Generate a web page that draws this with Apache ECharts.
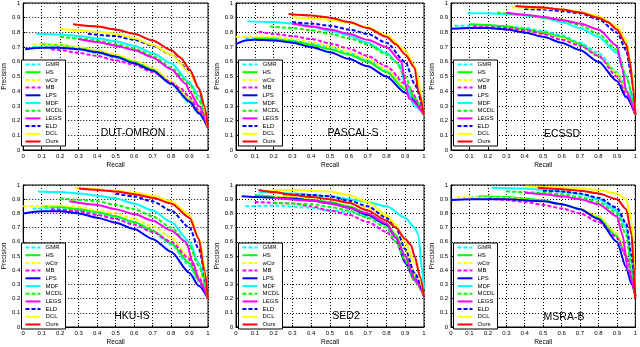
<!DOCTYPE html>
<html>
<head>
<meta charset="utf-8">
<script src="https://cdn.jsdelivr.net/npm/echarts@6/dist/echarts.min.js"></script>
<style>
  html, body { margin: 0; padding: 0; background: #fff; }
  #chart { width: 640px; height: 347px; }
</style>
</head>
<body>
<div id="chart"></div>
<script>
// methods, in legend order
const methods = ["GMR", "HS", "wCtr", "MB", "LPS", "MDF", "MCDL", "LEGS", "ELD", "DCL", "Ours"];
const datasetNames = ["DUT-OMRON", "PASCAL-S", "ECSSD", "HKU-IS", "SED2", "MSRA-B"];
const tickValues = [0, 0.1, 0.2, 0.3, 0.4, 0.5, 0.6, 0.7, 0.8, 0.9, 1];

// [recall, precision] pairs, one curve per method (same order as methods)
const dutOmron = [
  [[0.05, 0.70], [0.2, 0.70], [0.3, 0.685], [0.4, 0.66], [0.5, 0.63], [0.6, 0.59], [0.7, 0.54], [0.8, 0.45], [0.9, 0.32], [0.95, 0.25], [1, 0.15]],
  [[0.1, 0.72], [0.2, 0.715], [0.3, 0.695], [0.4, 0.67], [0.5, 0.64], [0.6, 0.60], [0.7, 0.55], [0.8, 0.46], [0.9, 0.34], [0.95, 0.26], [1, 0.15]],
  [[0.05, 0.72], [0.2, 0.715], [0.3, 0.70], [0.4, 0.68], [0.5, 0.65], [0.6, 0.61], [0.7, 0.56], [0.8, 0.47], [0.9, 0.35], [0.95, 0.27], [1, 0.15]],
  [[0.15, 0.685], [0.2, 0.68], [0.3, 0.66], [0.4, 0.64], [0.5, 0.61], [0.6, 0.58], [0.7, 0.53], [0.8, 0.46], [0.85, 0.42], [0.9, 0.36], [0.95, 0.27], [1, 0.15]],
  [[0.01, 0.685], [0.1, 0.695], [0.2, 0.695], [0.3, 0.685], [0.4, 0.665], [0.5, 0.635], [0.6, 0.59], [0.7, 0.54], [0.8, 0.45], [0.9, 0.33], [0.95, 0.25], [1, 0.15]],
  [[0.07, 0.79], [0.2, 0.785], [0.3, 0.775], [0.4, 0.76], [0.5, 0.74], [0.6, 0.71], [0.7, 0.66], [0.8, 0.59], [0.9, 0.46], [0.95, 0.37], [1, 0.15]],
  [[0.2, 0.77], [0.3, 0.76], [0.4, 0.745], [0.5, 0.72], [0.6, 0.69], [0.7, 0.64], [0.8, 0.56], [0.9, 0.45], [0.95, 0.34], [1, 0.15]],
  [[0.3, 0.755], [0.4, 0.735], [0.5, 0.71], [0.6, 0.68], [0.7, 0.63], [0.8, 0.55], [0.88, 0.45], [0.9, 0.40], [0.95, 0.30], [1, 0.15]],
  [[0.35, 0.79], [0.5, 0.775], [0.6, 0.75], [0.7, 0.71], [0.8, 0.65], [0.9, 0.54], [0.95, 0.42], [1, 0.15]],
  [[0.2, 0.825], [0.3, 0.815], [0.4, 0.805], [0.5, 0.79], [0.6, 0.76], [0.7, 0.715], [0.8, 0.65], [0.9, 0.53], [0.95, 0.42], [1, 0.15]],
  [[0.27, 0.855], [0.4, 0.84], [0.5, 0.82], [0.6, 0.79], [0.7, 0.745], [0.8, 0.68], [0.85, 0.63], [0.9, 0.55], [0.95, 0.42], [0.98, 0.30], [1, 0.15]]
];

const pascalS = [
  [[0.05, 0.76], [0.2, 0.76], [0.3, 0.745], [0.4, 0.725], [0.5, 0.70], [0.6, 0.66], [0.7, 0.61], [0.8, 0.54], [0.9, 0.42], [1, 0.24]],
  [[0.1, 0.76], [0.2, 0.755], [0.3, 0.74], [0.4, 0.715], [0.5, 0.685], [0.6, 0.65], [0.7, 0.60], [0.8, 0.53], [0.9, 0.41], [1, 0.24]],
  [[0.0, 0.77], [0.2, 0.77], [0.3, 0.755], [0.4, 0.735], [0.5, 0.705], [0.6, 0.67], [0.7, 0.62], [0.8, 0.55], [0.9, 0.43], [1, 0.24]],
  [[0.12, 0.805], [0.2, 0.79], [0.3, 0.775], [0.4, 0.755], [0.5, 0.725], [0.6, 0.69], [0.7, 0.64], [0.8, 0.57], [0.9, 0.45], [1, 0.24]],
  [[0.0, 0.72], [0.05, 0.745], [0.1, 0.75], [0.2, 0.745], [0.3, 0.73], [0.4, 0.70], [0.5, 0.665], [0.6, 0.62], [0.7, 0.57], [0.8, 0.50], [0.9, 0.39], [1, 0.24]],
  [[0.06, 0.875], [0.2, 0.87], [0.3, 0.86], [0.4, 0.84], [0.5, 0.81], [0.6, 0.78], [0.7, 0.73], [0.8, 0.66], [0.87, 0.58], [0.9, 0.45], [0.95, 0.30], [1, 0.24]],
  [[0.18, 0.84], [0.3, 0.83], [0.4, 0.815], [0.5, 0.79], [0.6, 0.76], [0.7, 0.72], [0.8, 0.65], [0.85, 0.60], [0.9, 0.50], [0.95, 0.35], [1, 0.24]],
  [[0.3, 0.86], [0.4, 0.84], [0.5, 0.82], [0.6, 0.79], [0.7, 0.75], [0.8, 0.70], [0.88, 0.60], [0.9, 0.45], [0.92, 0.35], [1, 0.24]],
  [[0.3, 0.87], [0.4, 0.86], [0.5, 0.845], [0.6, 0.82], [0.7, 0.79], [0.8, 0.73], [0.9, 0.60], [0.95, 0.45], [1, 0.24]],
  [[0.3, 0.905], [0.4, 0.895], [0.5, 0.885], [0.6, 0.865], [0.7, 0.835], [0.8, 0.78], [0.9, 0.68], [0.95, 0.57], [1, 0.24]],
  [[0.28, 0.925], [0.4, 0.915], [0.5, 0.90], [0.6, 0.87], [0.7, 0.83], [0.8, 0.77], [0.85, 0.72], [0.9, 0.65], [0.95, 0.56], [0.97, 0.40], [1, 0.24]]
];

const ecssd = [
  [[0.02, 0.845], [0.2, 0.845], [0.3, 0.84], [0.4, 0.83], [0.5, 0.81], [0.6, 0.78], [0.7, 0.73], [0.8, 0.66], [0.9, 0.53], [0.95, 0.42], [1, 0.24]],
  [[0.1, 0.855], [0.2, 0.85], [0.3, 0.84], [0.4, 0.82], [0.5, 0.80], [0.6, 0.77], [0.7, 0.72], [0.8, 0.64], [0.9, 0.52], [0.95, 0.40], [1, 0.24]],
  [[0.02, 0.825], [0.2, 0.83], [0.3, 0.825], [0.4, 0.81], [0.5, 0.79], [0.6, 0.76], [0.7, 0.71], [0.8, 0.64], [0.9, 0.52], [0.95, 0.40], [1, 0.24]],
  [[0.12, 0.84], [0.2, 0.835], [0.3, 0.83], [0.4, 0.815], [0.5, 0.79], [0.6, 0.75], [0.7, 0.71], [0.8, 0.64], [0.9, 0.50], [0.95, 0.38], [1, 0.24]],
  [[0.0, 0.825], [0.1, 0.83], [0.2, 0.83], [0.3, 0.82], [0.4, 0.80], [0.5, 0.77], [0.6, 0.73], [0.7, 0.68], [0.8, 0.60], [0.9, 0.47], [0.95, 0.36], [1, 0.24]],
  [[0.09, 0.93], [0.2, 0.93], [0.3, 0.925], [0.4, 0.915], [0.5, 0.90], [0.6, 0.87], [0.7, 0.83], [0.8, 0.77], [0.9, 0.66], [0.95, 0.50], [1, 0.24]],
  [[0.25, 0.935], [0.4, 0.92], [0.5, 0.90], [0.6, 0.88], [0.7, 0.85], [0.8, 0.79], [0.9, 0.68], [0.95, 0.50], [1, 0.24]],
  [[0.3, 0.935], [0.4, 0.92], [0.5, 0.905], [0.6, 0.885], [0.7, 0.86], [0.8, 0.82], [0.9, 0.71], [0.93, 0.55], [0.95, 0.40], [1, 0.24]],
  [[0.4, 0.96], [0.5, 0.955], [0.6, 0.945], [0.7, 0.93], [0.8, 0.89], [0.9, 0.80], [0.95, 0.68], [0.98, 0.50], [1, 0.24]],
  [[0.33, 0.97], [0.4, 0.97], [0.5, 0.965], [0.6, 0.955], [0.7, 0.94], [0.8, 0.91], [0.9, 0.84], [0.95, 0.75], [0.98, 0.55], [1, 0.24]],
  [[0.35, 0.98], [0.5, 0.97], [0.6, 0.955], [0.7, 0.935], [0.8, 0.90], [0.85, 0.87], [0.9, 0.82], [0.95, 0.72], [0.97, 0.60], [0.99, 0.40], [1, 0.24]]
];

const hkuIs = [
  [[0.05, 0.835], [0.2, 0.835], [0.3, 0.82], [0.4, 0.80], [0.5, 0.77], [0.6, 0.73], [0.7, 0.67], [0.8, 0.58], [0.9, 0.43], [0.95, 0.32], [1, 0.2]],
  [[0.1, 0.85], [0.2, 0.845], [0.3, 0.83], [0.4, 0.81], [0.5, 0.78], [0.6, 0.74], [0.7, 0.68], [0.8, 0.59], [0.9, 0.45], [0.95, 0.33], [1, 0.2]],
  [[0.0, 0.85], [0.2, 0.855], [0.3, 0.845], [0.4, 0.82], [0.5, 0.80], [0.6, 0.76], [0.7, 0.71], [0.8, 0.63], [0.9, 0.49], [0.95, 0.36], [1, 0.2]],
  [[0.15, 0.83], [0.2, 0.825], [0.3, 0.815], [0.4, 0.79], [0.5, 0.76], [0.6, 0.72], [0.7, 0.67], [0.8, 0.60], [0.9, 0.48], [0.95, 0.35], [1, 0.2]],
  [[0.0, 0.80], [0.1, 0.815], [0.2, 0.815], [0.3, 0.80], [0.4, 0.77], [0.5, 0.735], [0.6, 0.69], [0.7, 0.62], [0.8, 0.53], [0.9, 0.38], [0.95, 0.29], [1, 0.2]],
  [[0.08, 0.955], [0.2, 0.95], [0.3, 0.94], [0.4, 0.925], [0.5, 0.905], [0.6, 0.87], [0.7, 0.82], [0.8, 0.74], [0.9, 0.60], [0.95, 0.45], [1, 0.2]],
  [[0.2, 0.905], [0.3, 0.895], [0.4, 0.885], [0.5, 0.86], [0.6, 0.83], [0.7, 0.78], [0.8, 0.70], [0.9, 0.57], [0.95, 0.43], [1, 0.2]],
  [[0.25, 0.885], [0.4, 0.86], [0.5, 0.83], [0.6, 0.795], [0.7, 0.75], [0.8, 0.68], [0.88, 0.60], [0.92, 0.45], [0.95, 0.33], [1, 0.2]],
  [[0.5, 0.94], [0.6, 0.92], [0.7, 0.885], [0.8, 0.82], [0.9, 0.70], [0.95, 0.55], [1, 0.2]],
  [[0.28, 0.98], [0.4, 0.97], [0.5, 0.96], [0.6, 0.945], [0.7, 0.925], [0.8, 0.885], [0.9, 0.79], [0.95, 0.63], [1, 0.2]],
  [[0.3, 0.975], [0.4, 0.965], [0.5, 0.955], [0.6, 0.935], [0.7, 0.91], [0.8, 0.87], [0.9, 0.77], [0.95, 0.62], [0.98, 0.40], [1, 0.2]]
];

const sed2 = [
  [[0.05, 0.85], [0.2, 0.855], [0.4, 0.84], [0.5, 0.82], [0.6, 0.81], [0.7, 0.78], [0.8, 0.72], [0.85, 0.63], [0.9, 0.50], [0.95, 0.38], [1, 0.24]],
  [[0.1, 0.93], [0.3, 0.91], [0.4, 0.895], [0.5, 0.88], [0.6, 0.85], [0.7, 0.80], [0.8, 0.73], [0.85, 0.65], [0.9, 0.50], [0.95, 0.35], [1, 0.22]],
  [[0.2, 0.92], [0.4, 0.91], [0.5, 0.90], [0.6, 0.875], [0.7, 0.84], [0.8, 0.78], [0.85, 0.72], [0.9, 0.55], [0.95, 0.37], [1, 0.22]],
  [[0.1, 0.88], [0.3, 0.87], [0.4, 0.85], [0.5, 0.82], [0.6, 0.79], [0.7, 0.74], [0.8, 0.67], [0.85, 0.60], [0.9, 0.47], [0.95, 0.35], [1, 0.22]],
  [[0.03, 0.92], [0.1, 0.915], [0.3, 0.905], [0.4, 0.89], [0.5, 0.87], [0.6, 0.84], [0.7, 0.79], [0.8, 0.72], [0.85, 0.63], [0.9, 0.45], [0.95, 0.33], [1, 0.22]],
  [[0.12, 0.95], [0.3, 0.94], [0.5, 0.92], [0.6, 0.90], [0.7, 0.88], [0.8, 0.85], [0.9, 0.77], [0.95, 0.70], [0.97, 0.65], [0.99, 0.40], [1, 0.27]],
  [[0.2, 0.875], [0.4, 0.865], [0.5, 0.845], [0.6, 0.82], [0.7, 0.77], [0.8, 0.70], [0.85, 0.60], [0.9, 0.47], [0.95, 0.32], [1, 0.22]],
  [[0.2, 0.91], [0.4, 0.89], [0.5, 0.87], [0.6, 0.84], [0.7, 0.80], [0.8, 0.73], [0.85, 0.63], [0.9, 0.50], [0.95, 0.33], [1, 0.22]],
  [[0.25, 0.935], [0.4, 0.93], [0.5, 0.92], [0.6, 0.89], [0.7, 0.85], [0.8, 0.77], [0.85, 0.70], [0.9, 0.55], [0.95, 0.38], [1, 0.22]],
  [[0.15, 0.96], [0.3, 0.965], [0.5, 0.955], [0.6, 0.93], [0.7, 0.88], [0.8, 0.79], [0.85, 0.72], [0.9, 0.60], [0.95, 0.45], [1, 0.22]],
  [[0.12, 0.965], [0.2, 0.95], [0.3, 0.93], [0.4, 0.915], [0.5, 0.90], [0.6, 0.875], [0.7, 0.82], [0.8, 0.75], [0.85, 0.70], [0.9, 0.62], [0.93, 0.58], [0.95, 0.50], [0.98, 0.35], [1, 0.21]]
];

const msraB = [
  [[0.1, 0.915], [0.3, 0.91], [0.5, 0.89], [0.6, 0.865], [0.7, 0.83], [0.8, 0.77], [0.9, 0.64], [0.95, 0.50], [1, 0.22]],
  [[0.15, 0.92], [0.3, 0.915], [0.4, 0.905], [0.5, 0.89], [0.6, 0.865], [0.7, 0.83], [0.8, 0.77], [0.9, 0.64], [0.95, 0.50], [1, 0.22]],
  [[0.03, 0.915], [0.3, 0.91], [0.5, 0.885], [0.6, 0.865], [0.7, 0.83], [0.8, 0.78], [0.9, 0.66], [0.95, 0.52], [1, 0.22]],
  [[0.2, 0.905], [0.3, 0.895], [0.4, 0.88], [0.5, 0.86], [0.6, 0.835], [0.7, 0.80], [0.8, 0.74], [0.9, 0.63], [0.95, 0.50], [1, 0.22]],
  [[0.0, 0.895], [0.1, 0.90], [0.3, 0.90], [0.5, 0.885], [0.6, 0.865], [0.7, 0.83], [0.8, 0.76], [0.9, 0.60], [0.95, 0.42], [0.98, 0.30], [1, 0.22]],
  [[0.22, 0.98], [0.4, 0.975], [0.5, 0.965], [0.6, 0.955], [0.7, 0.935], [0.8, 0.90], [0.9, 0.82], [0.95, 0.70], [0.98, 0.45], [1, 0.22]],
  [[0.3, 0.955], [0.5, 0.945], [0.6, 0.935], [0.7, 0.915], [0.8, 0.88], [0.9, 0.80], [0.95, 0.65], [0.98, 0.40], [1, 0.22]],
  [[0.4, 0.945], [0.5, 0.935], [0.6, 0.92], [0.7, 0.90], [0.8, 0.865], [0.9, 0.78], [0.93, 0.65], [0.96, 0.40], [1, 0.22]],
  [[0.5, 0.96], [0.6, 0.955], [0.7, 0.94], [0.8, 0.91], [0.9, 0.84], [0.95, 0.73], [0.98, 0.50], [1, 0.22]],
  [[0.4, 0.99], [0.6, 0.985], [0.7, 0.975], [0.8, 0.965], [0.9, 0.94], [0.95, 0.90], [0.98, 0.75], [1, 0.25]],
  [[0.47, 0.98], [0.6, 0.97], [0.7, 0.96], [0.8, 0.94], [0.9, 0.90], [0.95, 0.83], [0.98, 0.65], [0.99, 0.45], [1, 0.2]]
];

const panels = [dutOmron, pascalS, ecssd, hkuIs, sed2, msraB];

// line styles, matching methods order
const lineColors = ["#00ffff", "#00ff00", "#ffff00", "#ff00ff", "#0000ff", "#00ffff", "#00ff00", "#ff00ff", "#0000ff", "#ffff00", "#ff0000"];
const dashed = [true, false, true, true, false, false, true, false, true, false, false];

const font = "Liberation Sans, Arial, Helvetica, sans-serif";
const gridBoxes = [
  { left: 19, top: 3, width: 189, height: 147 },
  { left: 236, top: 3, width: 188, height: 147 },
  { left: 451, top: 3, width: 188, height: 147 },
  { left: 19, top: 185, width: 189, height: 148 },
  { left: 236, top: 185, width: 188, height: 148 },
  { left: 451, top: 185, width: 188, height: 148 }
];
// centre of the dataset name inside each panel
const nameCentres = [[133, 133], [353, 133], [562, 134], [132, 316], [346, 316], [564, 317]];

const chart = echarts.init(document.getElementById("chart"), null, { renderer: "canvas" });

const axisCommon = {
  type: "value",
  min: 0,
  max: 1,
  interval: 0.1,
  axisLine: { show: true, lineStyle: { color: "#000", width: 1 } },
  axisTick: { show: true, inside: true, length: 2, lineStyle: { color: "#000" } },
  splitLine: { show: true, lineStyle: { color: "#000", type: [1, 2], width: 1 } },
  axisLabel: { fontSize: 6, color: "#000", fontFamily: font, margin: 3, showMinLabel: true, showMaxLabel: true },
  nameTextStyle: { fontSize: 6.5, color: "#000", fontFamily: font }
};

const option = {
  animation: false,
  backgroundColor: "#fff",
  grid: gridBoxes.map((g) => ({
    ...g,
    show: true,
    borderColor: "#000",
    borderWidth: 1,
    backgroundColor: "#fff",
    containLabel: false
  })),
  xAxis: gridBoxes.map((g, i) => ({
    ...axisCommon,
    gridIndex: i,
    name: "Recall",
    nameLocation: "middle",
    nameGap: 12
  })),
  yAxis: gridBoxes.map((g, i) => ({
    ...axisCommon,
    gridIndex: i,
    name: "Precision",
    nameLocation: "middle",
    nameGap: 15
  })),
  legend: gridBoxes.map((g) => ({
    orient: "vertical",
    left: g.left + 2.5,
    top: g.top + g.height - 90,
    data: methods,
    selectedMode: false,
    itemWidth: 15,
    itemHeight: 6.4,
    itemGap: 1.7,
    padding: [1.5, 3, 1.5, 3],
    borderColor: "#000",
    borderWidth: 1,
    backgroundColor: "#fff",
    itemStyle: { opacity: 0 },
    textStyle: { fontSize: 6, color: "#000", fontFamily: font }
  })),
  graphic: nameCentres.map((c, i) => ({
    type: "text",
    x: c[0],
    y: c[1],
    style: {
      text: datasetNames[i],
      fontSize: 10.5,
      fontFamily: font,
      fill: "#000",
      align: "center",
      verticalAlign: "middle"
    },
    z: 5
  })),
  series: []
};

panels.forEach((curves, p) => {
  curves.forEach((pts, m) => {
    option.series.push({
      type: "line",
      name: methods[m],
      xAxisIndex: p,
      yAxisIndex: p,
      data: pts,
      symbol: "none",
      smooth: 0.25,
      smoothMonotone: "x",
      z: 2 + m * 0.01,
      lineStyle: { color: lineColors[m], width: 2, type: dashed[m] ? [4, 2] : "solid" },
      itemStyle: { color: lineColors[m] }
    });
  });
});

chart.setOption(option);
</script>
</body>
</html>
